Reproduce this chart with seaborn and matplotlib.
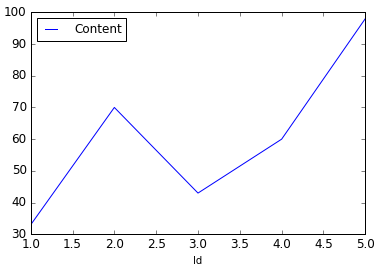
import matplotlib
matplotlib.use("Agg")
import matplotlib.pyplot as plt
import seaborn as sns
import pandas as pd

ids = [1, 2, 3, 4, 5]
content = [33, 70, 43, 60, 98]

plt.style.use("classic")
df = pd.DataFrame({"Id": ids, "Content": content})

fig = plt.figure(figsize=(380/72, 271/72), dpi=72, facecolor="white")
ax = fig.add_axes([30.7/380, 1-234.3/271, (365.3-30.7)/380, (234.3-12.3)/271])
sns.lineplot(data=df, x="Id", y="Content", ax=ax, color="b", label="Content", linewidth=1)
ax.set_ylabel("")
ax.set_xlabel("Id", fontsize=10)
ax.set_xlim(1, 5)
ax.set_ylim(30, 100)
ax.legend(loc="upper left", fontsize=12, handlelength=1.6, handletextpad=1.1)
fig.savefig("out.png", dpi=72, facecolor="white")
